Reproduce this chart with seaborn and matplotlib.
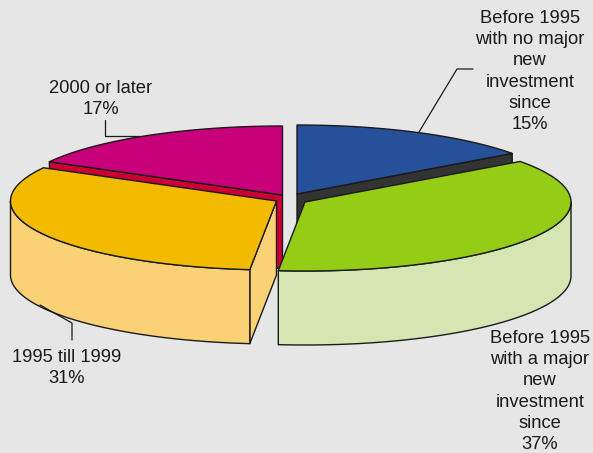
import numpy as np
import matplotlib
matplotlib.use("Agg")
import matplotlib.pyplot as plt
import seaborn as sns

labels = [
    "Before 1995\nwith no major\nnew\ninvestment\nsince",
    "Before 1995\nwith a major\nnew\ninvestment\nsince",
    "1995 till 1999",
    "2000 or later",
]
shares = [15.0, 36.6, 31.4, 17.0]
top_colors = ["#27509B", "#94CC16", "#F3BB00", "#C8007A"]
side_colors = ["#333333", "#D5E6B2", "#FBD175", "#CC0033"]

# exploded slice centres and label anchors, in pixels
centers = [(297, 194), (305, 202), (276.5, 201), (282.5, 195)]
label_pos = [(530, 71.5), (540, 391.5), (67, 368), (100.5, 99)]
# which cut face of each slice looks towards the viewer
open_cut = ["end", None, "start", "start"]
leaders = [
    [(419, 132), (457, 69), (473, 69)],
    [],
    [(40, 305), (72, 323), (72, 340)],
    [(105, 120), (105, 136), (140, 136)],
]

RX, RY, DEPTH = 266, 69, 74
EDGE = "#1a1a1a"

sns.set_theme(style="white", rc={"figure.facecolor": "#E6E6E6", "axes.facecolor": "#E6E6E6"})
plt.rcParams["font.family"] = ["Liberation Sans", "DejaVu Sans"]


def rim(cx, cy, a0, a1, n=80):
    t = np.radians(np.linspace(a0, a1, n))
    return cx + RX * np.sin(t), cy - RY * np.cos(t)


def poly(ax, x, y, color, z):
    ax.fill(x, y, facecolor=color, edgecolor=EDGE, linewidth=1.0, joinstyle="round", zorder=z)


fig = plt.figure(figsize=(5.93, 4.53), dpi=100)
ax = fig.add_axes([0, 0, 1, 1])
ax.set_xlim(0, 593)
ax.set_ylim(453, 0)
ax.axis("off")

edges = np.concatenate([[0], np.cumsum(shares)]) * 3.6
order = [0, 3, 1, 2]  # back slices first

for rank, i in enumerate(order):
    cx, cy = centers[i]
    a0, a1 = edges[i], edges[i + 1]
    z = 2 + rank * 3

    # flat cut face
    if open_cut[i]:
        a = a1 if open_cut[i] == "end" else a0
        rx, ry = rim(cx, cy, a, a, 1)
        poly(ax, [cx, rx[0], rx[0], cx], [cy, ry[0], ry[0] + DEPTH, cy + DEPTH], side_colors[i], z)

    # outer wall on the front half
    lo, hi = max(a0, 90), min(a1, 270)
    if lo < hi:
        wx, wy = rim(cx, cy, lo, hi)
        poly(ax, np.r_[wx, wx[::-1]], np.r_[wy, wy[::-1] + DEPTH], side_colors[i], z + 1)

    # top face
    tx, ty = rim(cx, cy, a0, a1)
    poly(ax, np.r_[cx, tx], np.r_[cy, ty], top_colors[i], z + 2)

for i, pts in enumerate(leaders):
    if pts:
        xs, ys = zip(*pts)
        ax.plot(xs, ys, color=EDGE, lw=0.9, zorder=30)

for i, name in enumerate(labels):
    ax.text(label_pos[i][0], label_pos[i][1], f"{name}\n{shares[i]:.0f}%",
            ha="center", va="center", ma="center", fontsize=13.2, color="#1a1a1a",
            linespacing=1.31, zorder=40)

fig.savefig("out.png", dpi=100, facecolor=fig.get_facecolor())
plt.close(fig)
